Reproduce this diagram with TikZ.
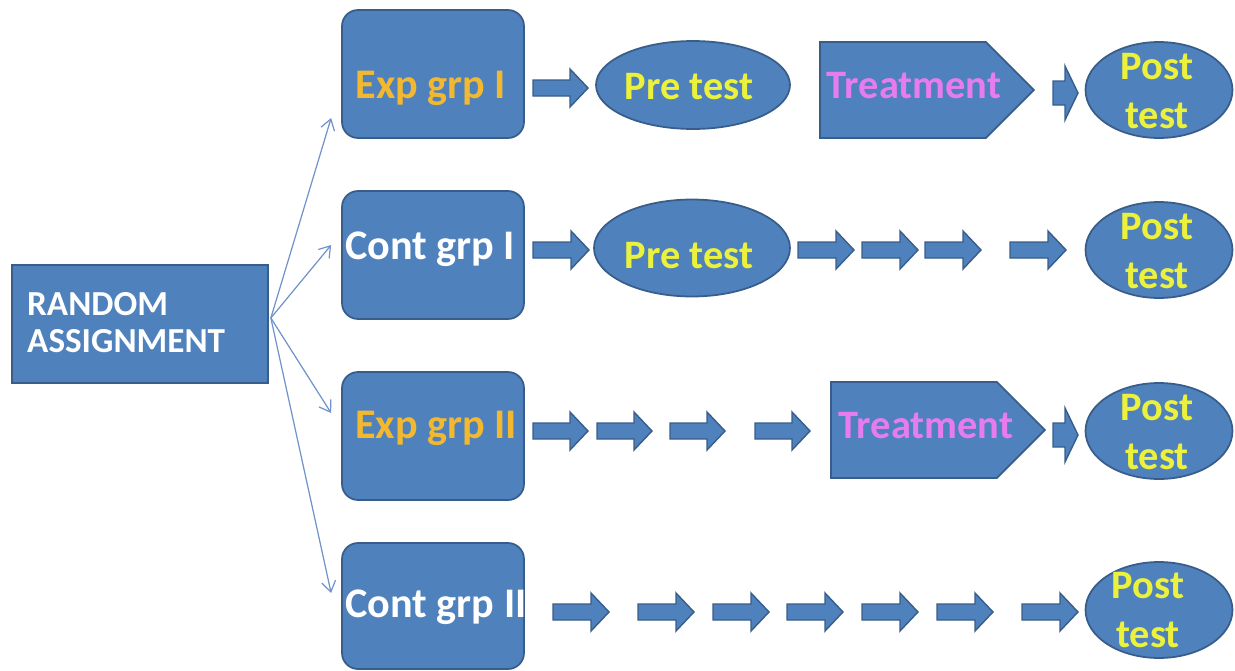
\documentclass[tikz,border=0pt]{standalone}
\usepackage{fontspec}
\setmainfont{Carlito}
\usetikzlibrary{shapes.geometric,shapes.symbols,arrows.meta}

\definecolor{boxblue}{HTML}{4F81BD}
\definecolor{boxline}{HTML}{385D8A}
\definecolor{grpgold}{HTML}{F2B830}
\definecolor{testyellow}{HTML}{ECF23C}
\definecolor{treatpink}{HTML}{E67CF0}
\definecolor{fanblue}{HTML}{7093CC}

\tikzset{
	shapebase/.style={draw=boxline, fill=boxblue, line width=1pt, inner sep=0pt},
	randbox/.style={shapebase, rectangle, minimum width=5.12cm, minimum height=2.36cm},
	grpbox/.style={shapebase, rectangle, rounded corners=0.32cm, minimum width=3.64cm, minimum height=2.56cm},
	treatsig/.style={shapebase, signal, signal to=east, signal pointer angle=90, minimum width=4.28cm, minimum height=1.92cm, anchor=west},
	blockarrow/.style={draw=boxline, fill=boxblue, line width=0.8pt, line join=miter},
	fanarrow/.style={draw=fanblue, line width=0.7pt, -{Straight Barb[length=6pt,width=8pt]}},
	bigtxt/.style={font=\bfseries\fontsize{24}{28}\selectfont, anchor=base},
	midtxt/.style={font=\bfseries\fontsize{23}{28}\selectfont, anchor=base},
	posttxt/.style={font=\bfseries\fontsize{23}{28}\selectfont, text=testyellow, align=center},
}

% block arrow: start x, centre y, length
\newcommand{\blockarrow}[3]{%
	\filldraw[blockarrow] (#1,#2-8) -- (#1+#3-18,#2-8) -- (#1+#3-18,#2-19)
	-- (#1+#3,#2) -- (#1+#3-18,#2+19) -- (#1+#3-18,#2+8) -- (#1,#2+8) -- cycle;}
% short tall arrow in front of post test
\newcommand{\tallarrow}[2]{%
	\filldraw[blockarrow] (#1,#2-12) -- (#1+12,#2-12) -- (#1+12,#2-27)
	-- (#1+25,#2) -- (#1+12,#2+27) -- (#1+12,#2+12) -- (#1,#2+12) -- cycle;}

\begin{document}
\begin{tikzpicture}[x=0.02cm, y=-0.02cm]
	\useasboundingbox (0,0) rectangle (1235,670);
	% random assignment
	\node[randbox] (rand) at (140,324) {};
	\node[font=\bfseries\fontsize{20}{21}\selectfont, text=white, align=left,
	anchor=west] (randtxt) at (21,323) {RANDOM\\ASSIGNMENT};
	% groups
	\node[grpbox] (expI) at (433,74) {};
	\node[grpbox] (contI) at (433,255) {};
	\node[grpbox] (expII) at (433,436) {};
	\node[grpbox, minimum height=2.52cm] (contII) at (433,606) {};
	\node[bigtxt, text=grpgold] (expItxt) at (431,98) {Exp grp I};
	\node[bigtxt, text=white] (contItxt) at (430,259) {Cont grp I};
	\node[bigtxt, text=grpgold] (expIItxt) at (436,438) {Exp grp II};
	\node[bigtxt, text=white] (contIItxt) at (436,617) {Cont grp II};
	% fan of thin arrows
	\coordinate (fan) at ([shift={(2,-6)}]rand.east);
	\draw[fanarrow] (fan) -- ([shift={(-10,44)}]expI.west);
	\draw[fanarrow] (fan) -- ([shift={(-10,-10)}]contI.west);
	\draw[fanarrow] (fan) -- ([shift={(-10,-23)}]expII.west);
	\draw[fanarrow] (fan) -- ([shift={(-10,-13)}]contII.west);
	% pre tests
	\node[shapebase, ellipse, minimum width=3.88cm, minimum height=1.76cm] (preI) at (693,85) {};
	\node[shapebase, ellipse, minimum width=3.92cm, minimum height=1.94cm] (preII) at (692,248) {};
	\node[midtxt, text=testyellow] (preItxt) at (689,99) {Pre test};
	\node[midtxt, text=testyellow] (preIItxt) at (689,268) {Pre test};
	% treatments
	\node[treatsig] (treatI) at (819,90) {};
	\node[treatsig] (treatII) at (830,430) {};
	\node[midtxt, text=treatpink] (treatItxt) at (914,98) {Treatment};
	\node[midtxt, text=treatpink] (treatIItxt) at (926,438) {Treatment};
	% post tests
	\foreach \y/\nm in {90/postI, 250/postII, 431/postIII, 610/postIV}
		\node[shapebase, ellipse, minimum width=2.94cm, minimum height=1.92cm] (\nm) at (1159,\y) {};
	\node[posttxt] (postItxt) at (1157,91) {Post\\test};
	\node[posttxt] (postIItxt) at (1157,251) {Post\\test};
	\node[posttxt] (postIIItxt) at (1157,432) {Post\\test};
	\node[posttxt] (postIVtxt) at (1148,610) {Post\\test};
	% block arrows, row by row
	\blockarrow{533}{88}{55}
	\tallarrow{1053}{93}
	\foreach \x in {533,798,862,925,1010} {
		\blockarrow{\x}{250}{56}
	}
	\foreach \x in {533,597,670,755} {
		\blockarrow{\x}{431}{55}
	}
	\tallarrow{1053}{435}
	\foreach \x in {553,638,713,787,862,937,1022} {
		\blockarrow{\x}{612}{56}
	}
\end{tikzpicture}
\end{document}
